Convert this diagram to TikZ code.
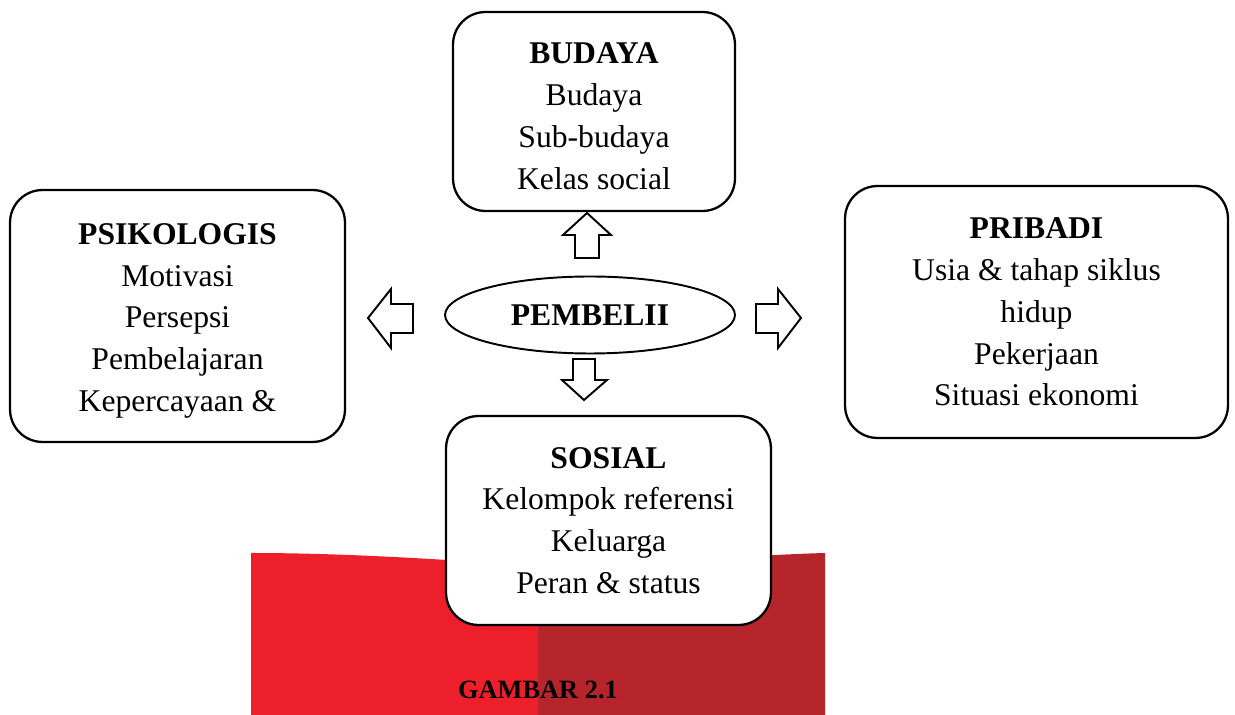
\documentclass[tikz,border=0pt]{standalone}
\usepackage{fontspec}
\setmainfont{Liberation Serif}
\usetikzlibrary{shapes.geometric}

\definecolor{merahterang}{HTML}{ED1F2A}
\definecolor{merahtua}{HTML}{B5252B}

\newcommand{\turun}{\rule{0pt}{17.5pt}}

\tikzset{
  faktor/.style={draw, line width=1.3pt, rounded corners=0.65cm, fill=white,
    align=center, inner sep=0pt, font=\fontsize{18}{23.8}\selectfont},
  panah/.style={draw, line width=1.1pt, fill=white, line join=miter}
}

\begin{document}
\begin{tikzpicture}[x=0.02cm,y=-0.02cm]
\useasboundingbox (0,0) rectangle (1235,715);

% latar merah di bawah
\fill[merahterang] (251,553) .. controls (350,553) and (450,560) .. (538,566) -- (538,715) -- (251,715) -- cycle;
\fill[merahtua] (538,566) .. controls (620,568) and (720,556) .. (825,553) -- (825,715) -- (538,715) -- cycle;

\node[faktor, minimum width=5.64cm, minimum height=3.98cm] (budaya) at (594,111.5)
  {\turun\textbf{BUDAYA}\\Budaya\\Sub-budaya\\Kelas social};
\node[faktor, minimum width=6.7cm, minimum height=5.04cm] (psikologis) at (177.5,316)
  {\turun\textbf{PSIKOLOGIS}\\Motivasi\\Persepsi\\Pembelajaran\\Kepercayaan \&};
\node[faktor, minimum width=7.66cm, minimum height=5.04cm] (pribadi) at (1036.5,312)
  {\textbf{PRIBADI}\\Usia \& tahap siklus\\hidup\\Pekerjaan\\Situasi ekonomi};
\node[faktor, minimum width=6.5cm, minimum height=4.18cm] (sosial) at (608.5,520.5)
  {\textbf{SOSIAL}\\Kelompok referensi\\Keluarga\\Peran \& status};

\node[draw, ellipse, line width=1.1pt, minimum width=5.8cm, minimum height=1.54cm, inner sep=0pt,
  font=\bfseries\fontsize{18}{22}\selectfont] (pembeli) at (590,315) {PEMBELII};

% panah blok
\draw[panah] (575,258) -- (575,235) -- (563,235) -- (587,213) -- (611,235) -- (599,235) -- (599,258) -- cycle;
\draw[panah] (413,304) -- (391,304) -- (391,289) -- (368,318) -- (391,348) -- (391,333) -- (413,333) -- cycle;
\draw[panah] (756,304) -- (778,304) -- (778,289) -- (801,318) -- (778,348) -- (778,333) -- (756,333) -- cycle;
\draw[panah] (573,359) -- (595,359) -- (595,380) -- (607,380) -- (584,400) -- (562,380) -- (573,380) -- cycle;

\node[font=\bfseries\fontsize{15}{18}\selectfont] (gambar) at (538,690) {GAMBAR 2.1};

\end{tikzpicture}
\end{document}
